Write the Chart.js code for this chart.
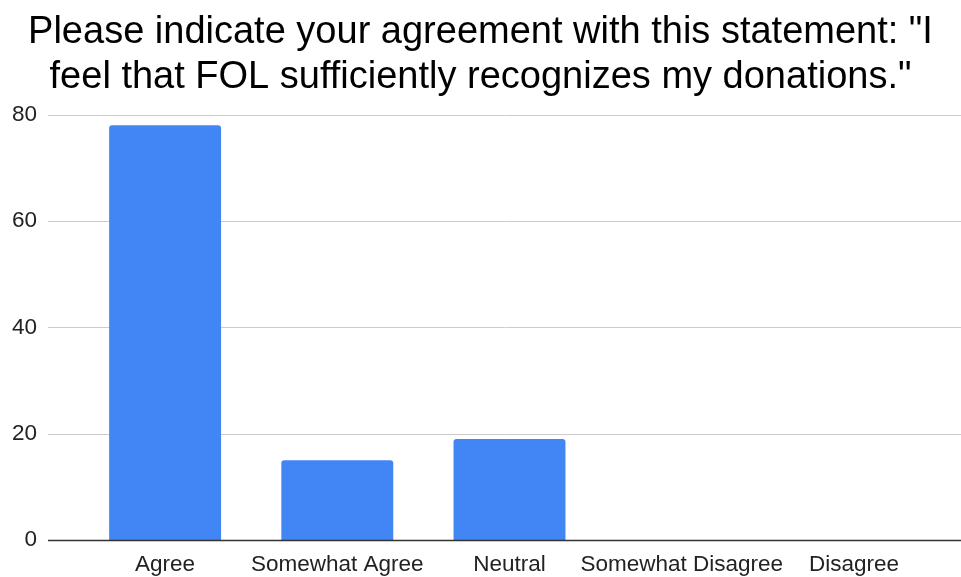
<!DOCTYPE html>
<html>
<head>
<meta charset="utf-8">
<script src="https://cdn.jsdelivr.net/npm/chart.js@4"></script>
<style>
  html, body { margin: 0; padding: 0; background: #fff; }
  #wrap { width: 961px; height: 577px; }
</style>
</head>
<body>
<div id="wrap"><canvas id="myChart"></canvas></div>
<script>
const categories = ['Agree', 'Somewhat Agree', 'Neutral', 'Somewhat Disagree', 'Disagree'];
const counts = [78, 15, 19, 0, 0];
const yTicks = [0, 20, 40, 60, 80];
const titleLines = ['Please indicate your agreement with this statement: "I', 'feel that FOL sufficiently recognizes my donations."'];

// grid lines in the original run wider than the category band
const wideGrid = {
  id: 'wideGrid',
  beforeDatasetsDraw(chart) {
    const ctx = chart.ctx;
    const y = chart.scales.y;
    const left = 48, right = chart.width;
    ctx.save();
    yTicks.forEach(v => {
      const py = Math.round(y.getPixelForValue(v)) + 0.5;
      ctx.beginPath();
      ctx.strokeStyle = v == 0 ? '#333333' : '#cccccc';
      ctx.lineWidth = 1;
      ctx.moveTo(left, py);
      ctx.lineTo(right, py);
      ctx.stroke();
    });
    ctx.restore();
  },
  afterDatasetsDraw(chart) {
    // redraw the baseline above the bars
    const ctx = chart.ctx;
    const py = Math.round(chart.scales.y.getPixelForValue(0)) + 0.5;
    ctx.save();
    ctx.beginPath();
    ctx.strokeStyle = '#333333';
    ctx.lineWidth = 1.3;
    ctx.moveTo(48, py);
    ctx.lineTo(chart.width, py);
    ctx.stroke();
    ctx.restore();
  }
};

const emptyAxis = (pos, w, weight) => ({
  position: pos,
  weight: weight,
  afterFit: s => { s.width = w; },
  grid: { display: false, drawTicks: false },
  border: { display: false },
  ticks: { display: false }
});

const config = {
  type: 'bar',
  data: {
    labels: categories,
    datasets: [{
      data: counts,
      backgroundColor: '#4285f4',
      borderRadius: {topLeft: 3, topRight: 3, bottomLeft: 0, bottomRight: 0},
      borderSkipped: 'bottom',
      categoryPercentage: 1,
      barPercentage: 0.65
    }]
  },
  options: {
    responsive: false,
    animation: false,
    devicePixelRatio: 1,
    layout: { padding: 0 },
    plugins: {
      legend: { display: false },
      tooltip: { enabled: false },
      title: {
        display: true,
        text: titleLines,
        color: '#000',
        font: { family: 'Liberation Sans, Arial, sans-serif', size: 38, weight: 'normal', lineHeight: 1.18 },
        padding: { top: 10, bottom: 15 }
      }
    },
    scales: {
      x: {
        afterFit: s => { s.height = 37; },
        grid: { display: false, drawTicks: false },
        border: { display: false },
        ticks: {
          color: '#222',
          font: { family: 'Liberation Sans, Arial, sans-serif', size: 22.5 },
          padding: 11,
          maxRotation: 0,
          autoSkip: false
        }
      },
      y: {
        min: 0,
        max: 80,
        weight: 2,
        afterFit: s => { s.width = 37; },
        afterBuildTicks: s => { s.ticks = yTicks.map(v => ({value: v})); },
        grid: { display: false, drawTicks: false },
        border: { display: false },
        ticks: {
          color: '#222',
          font: { family: 'Liberation Sans, Arial, sans-serif', size: 22.5 },
          padding: 0
        }
      },
      // empty axes, only keep the gaps either side of the category band
      yGap: emptyAxis('left', 42, 1),
      yRight: emptyAxis('right', 21, 1)
    }
  },
  plugins: [wideGrid]
};

const cv = document.getElementById('myChart');
cv.width = 961;
cv.height = 577;
new Chart(cv, config);
</script>
</body>
</html>
